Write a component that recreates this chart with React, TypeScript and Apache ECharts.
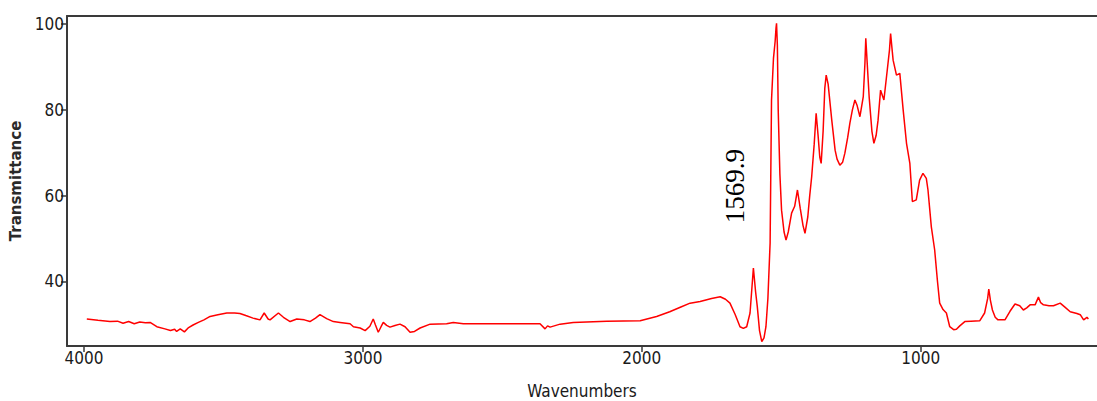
import React, { useEffect, useRef } from "react";
import * as echarts from "echarts";

// FTIR spectrum: wavenumber (cm-1) against transmittance (%)
const wavenumbers: number[] = [
  3990, 3950, 3907, 3880, 3860, 3840, 3820, 3800, 3780, 3763, 3739, 3710, 3690, 3675, 3668, 3655,
  3640, 3625, 3609, 3590, 3570, 3548, 3520, 3488, 3460, 3441, 3420, 3394, 3369, 3354, 3340, 3333,
  3303, 3285, 3261, 3237, 3210, 3190, 3170, 3154, 3130, 3106, 3082, 3046, 3034, 3010, 2992, 2975,
  2963, 2955, 2945, 2935, 2927, 2915, 2903, 2885, 2867, 2849, 2831, 2815, 2795, 2759, 2700, 2676,
  2640, 2500, 2365, 2347, 2338, 2329, 2293, 2246, 2126, 2006, 1947, 1900, 1860, 1827, 1791, 1750,
  1719, 1700, 1684, 1665, 1648, 1636, 1624, 1612, 1600, 1592, 1586, 1578, 1569.9, 1562, 1555, 1548,
  1540, 1535, 1528, 1522, 1519, 1517, 1514, 1511, 1505, 1499, 1490, 1483, 1475, 1463, 1452, 1442,
  1432, 1422, 1415, 1405, 1398, 1391, 1382, 1375, 1368, 1362, 1357, 1350, 1344, 1339, 1332, 1319,
  1307, 1300, 1290, 1280, 1272, 1262, 1254, 1245, 1236, 1228, 1218, 1206, 1200, 1197, 1192, 1185,
  1175, 1168, 1160, 1153, 1144, 1132, 1120, 1112, 1108, 1104, 1099, 1087, 1075, 1063, 1051, 1039,
  1030, 1016, 1004, 992, 980, 974, 962, 950, 940, 932, 920, 908, 896, 882, 872, 860,
  842, 820, 788, 771, 760, 756, 750, 743, 733, 723, 698, 680, 662, 645, 632, 620,
  608, 590, 578, 570, 560, 540, 524, 500, 482, 464, 440, 428, 416, 404, 399,
];

const transmittance: number[] = [
  31.2, 30.9, 30.6, 30.7, 30.2, 30.6, 30.1, 30.5, 30.3, 30.4, 29.4, 28.9, 28.5, 28.8, 28.3, 28.9,
  28.2, 29.2, 29.8, 30.4, 31.0, 31.8, 32.2, 32.6, 32.6, 32.5, 32.0, 31.4, 31.0, 32.6, 31.2, 31.0,
  32.6, 31.6, 30.6, 31.2, 31.0, 30.6, 31.4, 32.2, 31.3, 30.6, 30.4, 30.1, 29.4, 29.1, 28.5, 29.5,
  31.2, 29.8, 28.1, 29.4, 30.4, 29.7, 29.3, 29.7, 30.0, 29.4, 28.1, 28.3, 29.1, 30.0, 30.1, 30.4,
  30.1, 30.1, 30.1, 28.9, 29.6, 29.3, 30.0, 30.4, 30.7, 30.8, 31.8, 32.9, 34.0, 34.9, 35.3, 36.0,
  36.4, 35.8, 34.9, 32.2, 29.4, 29.0, 29.4, 32.6, 43.1, 37.5, 34.1, 28.5, 25.9, 26.8, 29.4, 36.0,
  49.0, 82.3, 92.0, 96.0, 99.0, 100.2, 95.0, 80.0, 65.0, 56.6, 51.5, 49.6, 51.5, 55.9, 57.5, 61.3,
  57.0, 53.0, 51.2, 55.0, 60.0, 64.4, 72.0, 79.2, 74.0, 69.0, 67.5, 75.0, 85.0, 88.1, 86.0, 77.6,
  70.6, 68.5, 67.1, 67.8, 69.9, 73.5, 76.9, 80.0, 82.3, 81.0, 78.4, 83.1, 91.0, 96.7, 91.0, 83.1,
  75.0, 72.2, 74.0, 77.6, 84.6, 82.3, 89.3, 94.0, 97.8, 95.0, 91.6, 88.1, 88.5, 80.0, 72.2, 67.5,
  58.6, 59.0, 63.6, 65.2, 64.0, 61.3, 52.7, 47.3, 40.0, 34.9, 33.4, 32.6, 29.4, 28.7, 28.8, 29.6,
  30.6, 30.7, 30.8, 32.6, 36.0, 38.2, 35.5, 33.3, 31.6, 31.0, 31.0, 33.0, 34.7, 34.3, 33.3, 33.8,
  34.5, 34.5, 36.3, 35.0, 34.5, 34.3, 34.3, 34.9, 33.9, 32.9, 32.5, 32.2, 31.0, 31.6, 31.2,
];

const xTicks: number[] = [1000, 2000, 3000, 4000];
const yTicks: number[] = [40, 60, 80, 100];

// band annotation: label text and where it sits in data space
const bandLabel = "1569.9";
const bandLabelAt: number[] = [1666, 62.2];

const axisColor = "#3a3a3a";
const labelColor = "#1a1a1a";
const narrowFont = "'Liberation Sans Narrow', 'Arial Narrow', 'DejaVu Sans Condensed', sans-serif";

export default function App() {
  const ref = useRef<HTMLDivElement>(null);

  useEffect(() => {
    if (!ref.current) return;
    const chart = echarts.init(ref.current, null, { renderer: "svg" });
    const points = wavenumbers.map((w, i) => [w, transmittance[i]]);
    const plain = (v: number) => String(v);

    chart.setOption({
      animation: false,
      backgroundColor: "#ffffff",
      grid: { left: 67, right: 0, top: 16, bottom: 55, outerBoundsMode: "none" },
      xAxis: [
        {
          type: "value",
          inverse: true,
          min: 368,
          max: 4061,
          position: "bottom",
          axisLine: { lineStyle: { color: axisColor, width: 2 } },
          axisTick: {
            show: true,
            length: 6,
            customValues: xTicks,
            lineStyle: { color: axisColor, width: 1.5 },
          },
          axisLabel: {
            customValues: xTicks,
            formatter: plain,
            color: labelColor,
            fontSize: 17,
            fontFamily: narrowFont,
            margin: 3,
          },
          splitLine: { show: false },
          name: "Wavenumbers",
          nameLocation: "middle",
          nameGap: 36,
          nameTextStyle: { color: labelColor, fontSize: 17, fontFamily: narrowFont },
        },
        {
          type: "value",
          inverse: true,
          min: 368,
          max: 4061,
          position: "top",
          axisLine: { show: true, lineStyle: { color: axisColor, width: 2 } },
          axisTick: { show: false },
          axisLabel: { show: false },
          splitLine: { show: false },
        },
      ],
      yAxis: {
        type: "value",
        min: 24.9,
        max: 101.9,
        axisLine: { show: true, lineStyle: { color: axisColor, width: 2 } },
        axisTick: {
          show: true,
          length: 6,
          customValues: yTicks,
          lineStyle: { color: axisColor, width: 1.5 },
        },
        axisLabel: {
          customValues: yTicks,
          formatter: plain,
          color: labelColor,
          fontSize: 17,
          fontFamily: narrowFont,
          margin: 3,
        },
        splitLine: { show: false },
        name: "Transmittance",
        nameLocation: "middle",
        nameRotate: 90,
        nameGap: 38,
        nameTextStyle: {
          color: "#2a2a2a",
          fontSize: 15,
          fontWeight: "bold",
          fontFamily: "'DejaVu Sans', sans-serif",
        },
      },
      series: [
        {
          type: "line",
          xAxisIndex: 0,
          data: points,
          showSymbol: false,
          smooth: false,
          lineStyle: { color: "#ff0000", width: 1.5 },
          markPoint: {
            symbol: "circle",
            symbolSize: 0,
            silent: true,
            data: [{ coord: bandLabelAt, value: bandLabel }],
            label: {
              show: true,
              position: "inside",
              formatter: bandLabel,
              rotate: 90,
              color: "#000000",
              fontSize: 27,
              fontFamily: "'Liberation Serif', 'Times New Roman', serif",
            },
          },
        },
      ],
    });

    return () => chart.dispose();
  }, []);

  return (
    <div
      ref={ref}
      style={{ position: "absolute", left: 0, top: 0, width: 1097, height: 401 }}
    />
  );
}
